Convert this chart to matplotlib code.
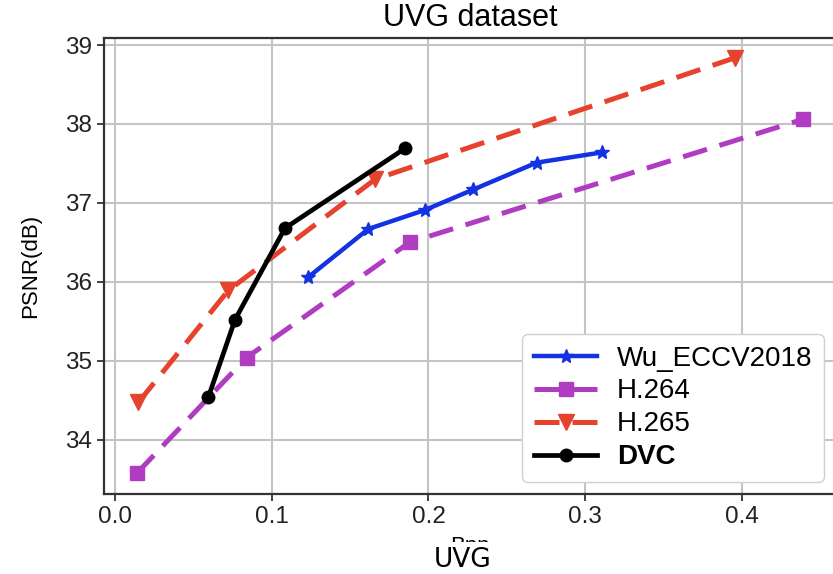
import matplotlib
matplotlib.use("Agg")
import matplotlib.pyplot as plt
from matplotlib.patches import Rectangle

plt.rcParams['font.family'] = ['Liberation Sans', 'DejaVu Sans']

# rate-distortion points (bpp, PSNR)
wu_bpp = [0.1234, 0.1617, 0.1978, 0.2287, 0.2690, 0.3106]
wu_psnr = [36.06, 36.67, 36.91, 37.17, 37.51, 37.64]

h264_bpp = [0.0138, 0.0840, 0.1880, 0.4390]
h264_psnr = [33.57, 35.04, 36.50, 38.06]

h265_bpp = [0.0149, 0.0723, 0.1660, 0.3957]
h265_psnr = [34.47, 35.89, 37.30, 38.84]

dvc_bpp = [0.0596, 0.0766, 0.1085, 0.1850]
dvc_psnr = [34.54, 35.52, 36.68, 37.69]

W, H = 833, 574
fig = plt.figure(figsize=(W / 100, H / 100), dpi=100)
ax = fig.add_axes([104 / W, 80 / H, (836 - 104) / W, (536 - 80) / H])

ax.plot(wu_bpp, wu_psnr, color='#1232e4', lw=3.2, marker='*', ms=10,
        label='Wu_ECCV2018', zorder=3)
ax.plot(h264_bpp, h264_psnr, color='#b03cc2', lw=3.6, ls='--', dashes=(5, 2.6),
        marker='s', ms=10, label='H.264', zorder=2)
ax.plot(h265_bpp, h265_psnr, color='#e6432f', lw=3.6, ls='--', dashes=(5, 2.6),
        marker='v', ms=11, label='H.265', zorder=2)
ax.plot(dvc_bpp, dvc_psnr, color='black', lw=3.4, marker='o', ms=9,
        label='DVC', zorder=4)

ax.set_xlim(-0.007, 0.46)
ax.set_ylim(33.31, 39.09)
ax.set_xticks([0.0, 0.1, 0.2, 0.3, 0.4])
ax.set_yticks([34, 35, 36, 37, 38, 39])
ax.grid(True, color='#c4c4c4', lw=1.5)
ax.set_axisbelow(True)
ax.tick_params(labelsize=17.5, length=5, width=1.2, colors='#222222')
for s in ax.spines.values():
    s.set_linewidth(1.6)
    s.set_color('#333333')

ax.set_title('UVG dataset', fontsize=22, pad=9)
ax.set_ylabel('PSNR(dB)', fontsize=16, labelpad=17)
ax.set_xlabel('Bpp', fontsize=16, labelpad=6)

leg = ax.legend(loc='lower right', fontsize=20, handlelength=2.3,
                framealpha=1, edgecolor='#d0d0d0', labelspacing=0.25,
                borderaxespad=0.45, handletextpad=0.7)
leg.get_texts()[3].set_fontweight('bold')

# caption strip over the bottom of the figure
fig.patches.append(Rectangle((0, 0), 1, 32 / H, transform=fig.transFigure,
                             facecolor='white', edgecolor='none', zorder=5))
fig.text(0.555, 14 / H, 'UVG', ha='center', va='center', fontsize=19,
         family='DejaVu Sans', zorder=6)

fig.savefig('out.png', dpi=100)
